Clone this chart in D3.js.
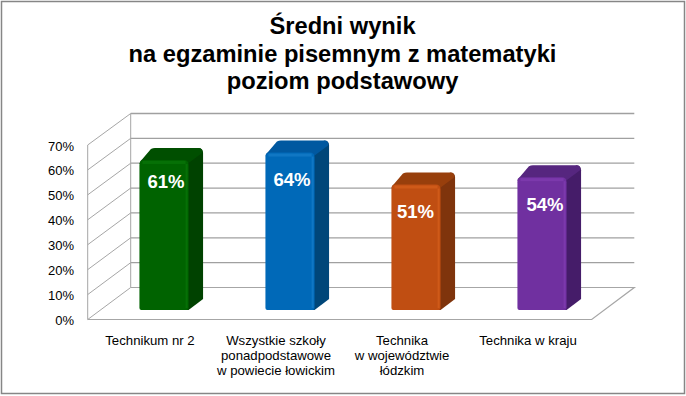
<!DOCTYPE html>
<html><head><meta charset="utf-8">
<script src="https://cdn.jsdelivr.net/npm/d3@7"></script>
<style>html,body{margin:0;padding:0;background:#fff}svg{display:block}text{font-family:"Liberation Sans",Arial,sans-serif}</style>
</head><body><svg id="c" width="686" height="396"></svg>
<script>
const titleLines = ["Średni wynik","na egzaminie pisemnym z matematyki","poziom podstawowy"];
const categories = ["Technikum nr 2","Wszystkie szkoły","Technika","Technika w kraju"];
const categoryLines = [["Technikum nr 2"],["Wszystkie szkoły","ponadpodstawowe","w powiecie łowickim"],["Technika","w województwie","łódzkim"],["Technika w kraju"]];
const values = [61,64,51,54];
const labels = ["61%","64%","51%","54%"];
const ticks = [0,10,20,30,40,50,60,70];
const frontColors = ["#006300","#0069B8","#C04E12","#7030A0"];
const topColors = ["#004F00","#0058A0","#983F0C","#56267F"];
const sideColors = ["#004200","#004679","#7F340C","#451C69"];

const svg = d3.select("#c");
svg.append("rect").attr("x",1.5).attr("y",1.5).attr("width",683).attr("height",392)
  .attr("fill","#fff").attr("stroke","#868686").attr("stroke-width",1.5);

svg.append("g").selectAll("text").data(titleLines).join("text")
  .attr("x",342.5).attr("y",(d,i)=>34+i*27.5).attr("text-anchor","middle")
  .attr("font-size",23.7).attr("font-weight","bold").attr("fill","#000").text(d=>d);

const yFront = d3.scaleLinear().domain([0,70]).range([319.5,145]);
const yBack = d3.scaleLinear().domain([0,70]).range([287.5,113.5]);
const yBar = d3.scaleLinear().domain([0,70]).range([310,137.8]);
const x = d3.scaleBand().domain(categories).range([101,605]).paddingInner(0.61).paddingOuter(0.305);
const leftFront=87.7, leftBack=130.7, rightBack=634.3, rightFront=591.7, depthX=14.5, depthY=12;

const grid = svg.append("g");
grid.selectAll(".h").data(ticks.filter(t=>t>0)).join("line")
  .attr("x1",leftBack).attr("x2",rightBack).attr("y1",d=>yBack(d)).attr("y2",d=>yBack(d))
  .attr("stroke","#a0a0a0").attr("stroke-width",1.3);
grid.selectAll(".d").data(ticks).join("line")
  .attr("x1",leftFront).attr("y1",d=>yFront(d)).attr("x2",leftBack).attr("y2",d=>yBack(d))
  .attr("stroke","#a6a6a6").attr("stroke-width",1);
grid.append("line").attr("x1",leftFront).attr("x2",leftFront).attr("y1",yFront(0)).attr("y2",yFront(70)).attr("stroke","#a6a6a6");
grid.append("line").attr("x1",leftBack).attr("x2",leftBack).attr("y1",yBack(0)).attr("y2",yBack(70)).attr("stroke","#a6a6a6");
grid.append("path").attr("fill","none").attr("stroke","#a6a6a6").attr("stroke-width",1.2)
  .attr("d",`M${leftBack},${yBack(0)}H${rightBack}L${rightFront},${yFront(0)}H${leftFront}`);

svg.append("g").selectAll("text").data(ticks).join("text")
  .attr("x",74).attr("y",d=>yFront(d)+5.5).attr("text-anchor","end")
  .attr("font-size",13).attr("fill","#000").text(d=>d+"%");

const bars = svg.append("g").selectAll("g").data(values).join("g");
const bx = (d,i)=>x(categories[i]);
const bw = x.bandwidth();
const rimShades = ["#0a7a0a","#1a80cc","#d8621e","#8440b4"];
bars.append("path").attr("fill",(d,i)=>sideColors[i]).attr("d",(d,i)=>{
  const r=bx(d,i)+bw, t=yBar(d), b=yBar(0);
  return `M${r-2},${t+1}L${r+depthX-5},${t-depthY}Q${r+depthX},${t-depthY} ${r+depthX},${t-depthY+5}V${b-depthY+1}L${r},${b}H${r-2}Z`;
});
bars.append("path").attr("fill",(d,i)=>topColors[i]).attr("d",(d,i)=>{
  const l=bx(d,i), r=l+bw, t=yBar(d);
  return `M${l},${t+4}Q${l},${t+1} ${l+3},${t-1}L${l+depthX-3},${t-depthY+1}Q${l+depthX-1},${t-depthY} ${l+depthX+1},${t-depthY}H${r+depthX-5}Q${r+depthX},${t-depthY} ${r+depthX-1},${t-depthY+5}L${r},${t+3}Z`;
});
bars.append("path").attr("fill",(d,i)=>frontColors[i]).attr("d",(d,i)=>{
  const l=bx(d,i), r=l+bw, t=yBar(d), b=yBar(0);
  return `M${l},${t+5}Q${l},${t} ${l+5},${t}H${r-5}Q${r},${t} ${r},${t+5}V${b-2}Q${r},${b} ${r-2},${b}H${l+2}Q${l},${b} ${l},${b-2}Z`;
});
bars.append("rect").attr("x",(d,i)=>bx(d,i)+bw-3).attr("y",d=>yBar(d)+4).attr("width",2).attr("height",d=>yBar(0)-yBar(d)-6)
  .attr("fill",(d,i)=>rimShades[i]).attr("opacity",0.6);
bars.append("rect").attr("x",(d,i)=>bx(d,i)+3).attr("y",d=>yBar(d)+1).attr("width",bw-6).attr("height",3)
  .attr("fill",(d,i)=>rimShades[i]).attr("opacity",0.6);

const labelNudge = [[2,28],[2,33],[-0.5,33.5],[3,34]];
svg.append("g").selectAll("text").data(values).join("text")
  .attr("x",(d,i)=>bx(d,i)+bw/2+labelNudge[i][0]).attr("y",(d,i)=>yBar(d)+labelNudge[i][1])
  .attr("text-anchor","middle").attr("font-size",18.5).attr("font-weight","bold").attr("fill","#fff")
  .text((d,i)=>labels[i]);

const cat = svg.append("g").selectAll("text").data(categoryLines).join("text")
  .attr("text-anchor","middle").attr("font-size",13.2).attr("fill","#000");
cat.selectAll("tspan").data((d,i)=>d.map(s=>({s,i}))).join("tspan")
  .attr("x",d=>x(categories[d.i])+bw/2-14).attr("y",(d,j)=>345+j*15).text(d=>d.s);
</script></body></html>
